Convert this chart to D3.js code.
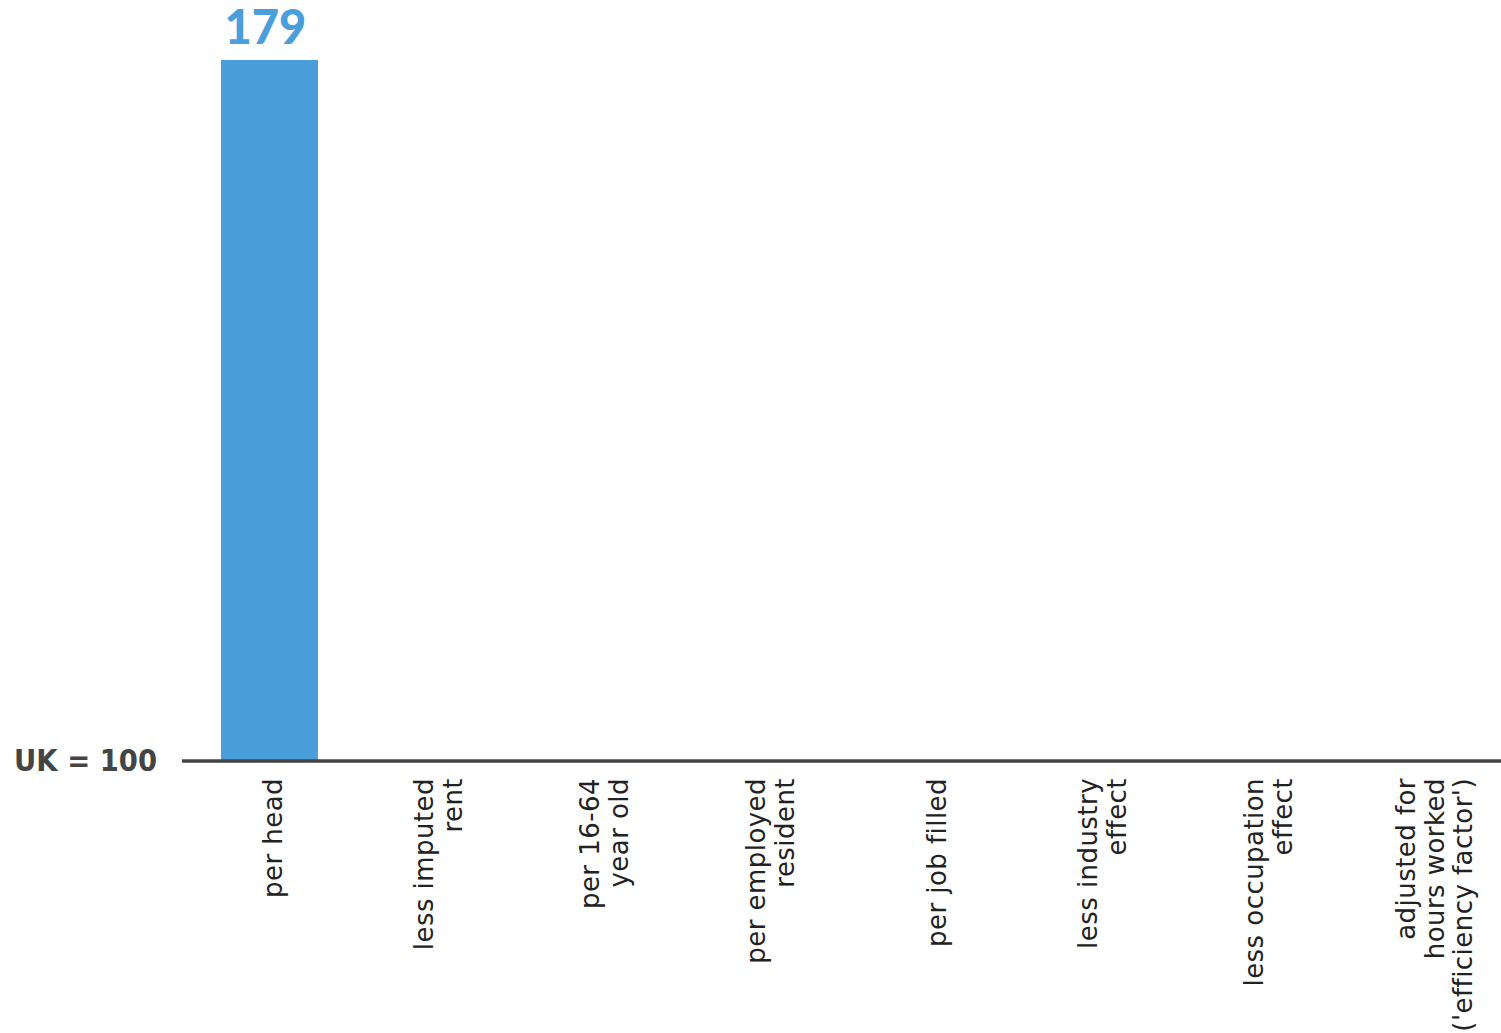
<!DOCTYPE html>
<html>
<head>
<meta charset="utf-8">
<script src="https://cdn.jsdelivr.net/npm/d3@7"></script>
<style>
  html, body { margin: 0; padding: 0; background: #ffffff; }
  svg { display: block; }
</style>
</head>
<body>
<svg id="chart" width="1501" height="1033"></svg>
<script>
// ---- data ----
const categories = [
  "per head",
  "less imputed|rent",
  "per 16-64|year old",
  "per employed|resident",
  "per job filled",
  "less industry|effect",
  "less occupation|effect",
  "adjusted for|hours worked|('efficiency factor')"
];
const values = [179, null, null, null, null, null, null, null];
const baseline = 100;
const baselineLabel = "UK = 100";

// ---- layout ----
const W = 1501, H = 1033;
const svg = d3.select("#chart");
const fontFam = "'DejaVu Sans', 'Open Sans', sans-serif";

const x = d3.scaleBand()
  .domain(categories)
  .range([182, 1519])
  .paddingInner(0.416)
  .paddingOuter(0.235);

const y = d3.scaleLinear()
  .domain([100, 179])
  .range([760, 60]);

const blue = "#4a9eda";

// bars
const data = categories.map((c, i) => ({ c, v: values[i] }));
svg.append("g").selectAll("rect")
  .data(data.filter(d => d.v != null))
  .join("rect")
  .attr("x", d => x(d.c))
  .attr("width", x.bandwidth())
  .attr("y", d => y(d.v))
  .attr("height", d => y(baseline) - y(d.v))
  .attr("fill", blue);

// value labels
svg.append("g").selectAll("text")
  .data(data.filter(d => d.v != null))
  .join("text")
  .attr("x", d => x(d.c) + x.bandwidth() / 2 - 4)
  .attr("y", d => y(d.v) - 16)
  .attr("text-anchor", "middle")
  .attr("font-family", "Lato, " + fontFam)
  .attr("font-weight", 900)
  .attr("font-size", 47)
  .attr("fill", blue)
  .text(d => d.v);

// baseline axis line
svg.append("line")
  .attr("x1", 182).attr("x2", W)
  .attr("y1", y(baseline) + 1).attr("y2", y(baseline) + 1)
  .attr("stroke", "#444444")
  .attr("stroke-width", 3.5);

// baseline label
svg.append("text")
  .attr("x", 157)
  .attr("y", y(baseline) + 11)
  .attr("text-anchor", "end")
  .attr("font-family", fontFam)
  .attr("font-weight", "bold")
  .attr("font-size", 31)
  .attr("textLength", 143)
  .attr("lengthAdjust", "spacingAndGlyphs")
  .attr("fill", "#444444")
  .text(baselineLabel);

// category labels (rotated)
const fs = 26, lh = 28.5;
const labels = svg.append("g").selectAll("text")
  .data(categories)
  .join("text")
  .attr("transform", d => `translate(${x(d) + x.bandwidth() / 2 + 3},778) rotate(-90)`)
  .attr("text-anchor", "end")
  .attr("font-family", fontFam)
  .attr("font-size", fs)
  .attr("letter-spacing", 0.45)
  .attr("fill", "#222222");

labels.each(function(d) {
  const lines = d.split("|");
  const n = lines.length;
  d3.select(this).selectAll("tspan")
    .data(lines)
    .join("tspan")
    .attr("x", 0)
    .attr("y", (l, i) => (i - (n - 1) / 2) * lh + fs * 0.35)
    .text(l => l);
});
</script>
</body>
</html>
